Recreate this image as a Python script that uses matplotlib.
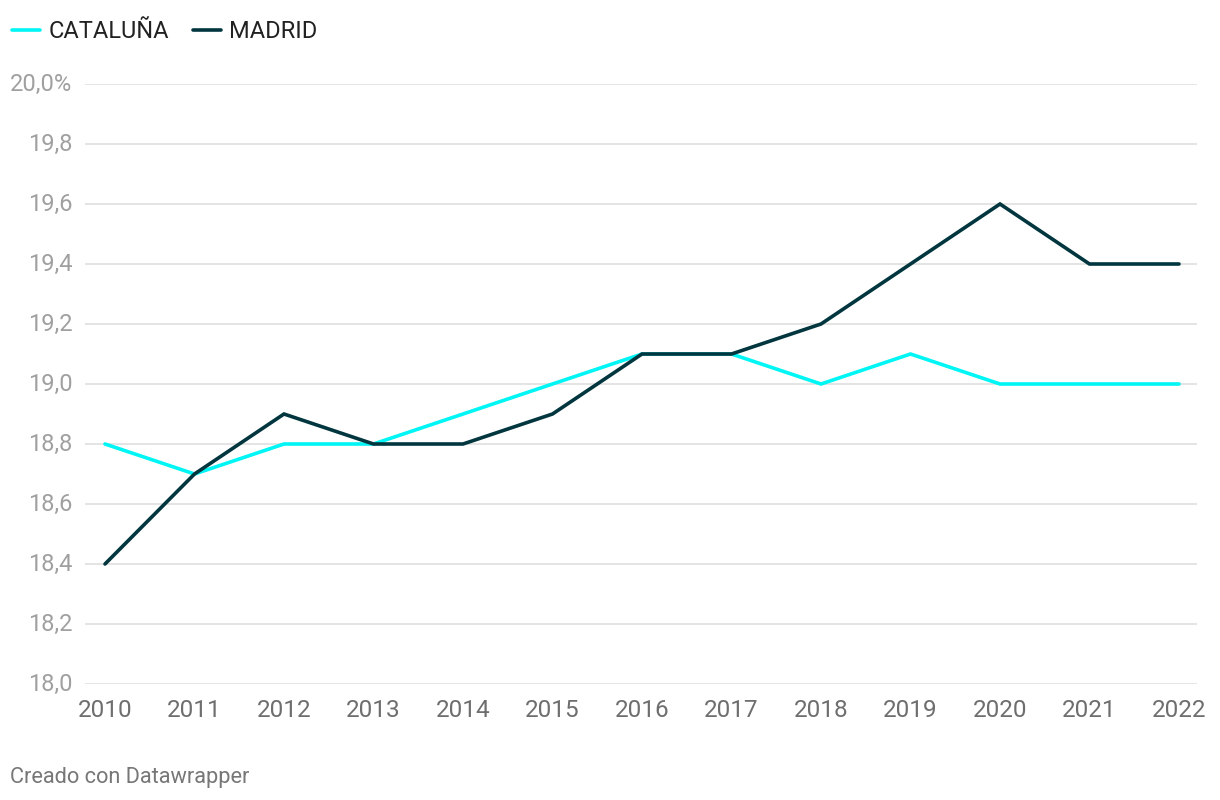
import numpy as np
import matplotlib
matplotlib.use("Agg")
import matplotlib.pyplot as plt
from matplotlib.lines import Line2D

plt.rcParams['font.family'] = ['Roboto', 'DejaVu Sans']

years = [2010, 2011, 2012, 2013, 2014, 2015, 2016, 2017, 2018, 2019, 2020, 2021, 2022]
cataluna = [18.8, 18.7, 18.8, 18.8, 18.9, 19.0, 19.1, 19.1, 19.0, 19.1, 19.0, 19.0, 19.0]
madrid = [18.4, 18.7, 18.9, 18.8, 18.8, 18.9, 19.1, 19.1, 19.2, 19.4, 19.6, 19.4, 19.4]
yticks = [18.0, 18.2, 18.4, 18.6, 18.8, 19.0, 19.2, 19.4, 19.6, 19.8, 20.0]
ytick_labels = ["18,0", "18,2", "18,4", "18,6", "18,8", "19,0", "19,2", "19,4", "19,6", "19,8", "20,0%"]

c_cat = "#00f5f5"
c_mad = "#01363f"

fig = plt.figure(figsize=(12.2, 8), dpi=100)
ax = fig.add_axes([85/1220, 1-684/800, (1197-85)/1220, 600/800])

ax.plot(years, cataluna, color=c_cat, lw=2.6, solid_capstyle='round', solid_joinstyle='miter', zorder=3)
ax.plot(years, madrid, color=c_mad, lw=2.6, solid_capstyle='round', solid_joinstyle='miter', zorder=4)

ax.set_xlim(2010 - 20/89.5, 2022 + 18/89.5)
ax.set_ylim(18.0, 20.0)
ax.set_yticks(yticks)
ax.set_yticklabels(ytick_labels)
ax.set_xticks(years)
ax.set_xticklabels([str(y) for y in years])

for s in ax.spines.values():
    s.set_visible(False)
ax.grid(axis='y', color='#e2e2e2', lw=1.3, zorder=0)
ax.tick_params(axis='both', length=0)
ax.tick_params(axis='y', labelsize=17, labelcolor='#a0a0a0', pad=9)
ax.tick_params(axis='x', labelsize=17.5, labelcolor='#6e6e6e', pad=11)
for lbl in ax.get_yticklabels():
    lbl.set_verticalalignment('center')

# legend
handles = [Line2D([], [], color=c_cat, lw=2.6, solid_capstyle='round'),
           Line2D([], [], color=c_mad, lw=2.6, solid_capstyle='round')]
fig.legend(handles, ["CATALUÑA", "MADRID"], loc='center left',
           bbox_to_anchor=(12/1220, 1-32/800), ncol=2, frameon=False,
           fontsize=17, handlelength=1.2, handletextpad=0.35, columnspacing=1.0,
           labelcolor='#222222', borderaxespad=0, borderpad=0.0)

fig.text(10/1220, 1-777/800, "Creado con Datawrapper", fontsize=15.7, color='#777777',
         ha='left', va='center')

fig.savefig("out.png", dpi=100, facecolor='white')
